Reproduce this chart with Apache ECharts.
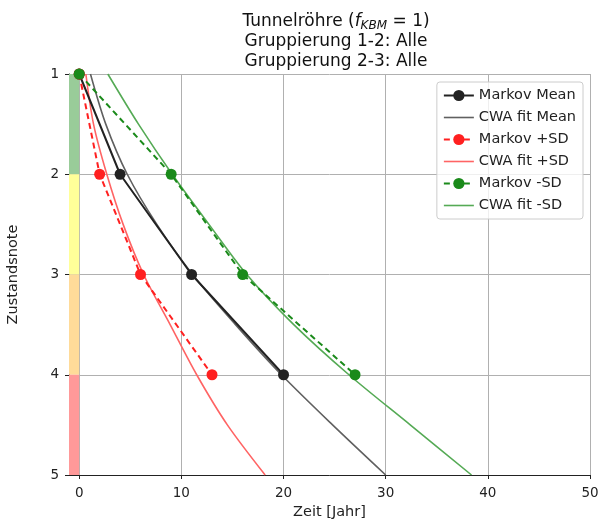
<!DOCTYPE html>
<html>
<head>
<meta charset="utf-8">
<script src="https://cdn.jsdelivr.net/npm/echarts@6/dist/echarts.min.js"></script>
<style>
  html, body { margin: 0; padding: 0; background: #fff; }
  #chart { width: 605px; height: 522px; }
</style>
</head>
<body>
<div id="chart"></div>
<script>
// Markov Stuetzstellen [Zeit, Zustandsnote]
var markovMean = [[0, 1], [4, 2], [11, 3], [20, 4]];
var markovPlus = [[0, 1], [2, 2], [6, 3], [13, 4]];
var markovMinus = [[0, 1], [9, 2], [16, 3], [27, 4]];

// CWA fit Kurven
var fitMean = [[1.1, 1], [2.6, 1.5], [4.7, 2], [7.6, 2.5], [11.1, 3], [15.3, 3.5], [19.8, 4], [24.8, 4.5], [30.0, 5]];
var fitPlus = [[0.65, 1], [1.4, 1.5], [2.7, 2], [4.3, 2.5], [6.3, 3], [8.9, 3.5], [11.5, 4], [14.5, 4.5], [18.2, 5]];
var fitMinus = [[2.8, 1], [5.8, 1.5], [9.1, 2], [12.7, 2.5], [16.4, 3], [21.0, 3.5], [26.4, 4], [32.4, 4.5], [38.4, 5]];

// Zustandsbänder links
var zoneEdges = [1, 2, 3, 4, 5];
var zoneColors = ['#99cc99', '#ffff99', '#ffdb99', '#ff9999'];

var xTicks = [0, 10, 20, 30, 40, 50];

var chart = echarts.init(document.getElementById('chart'));

var zones = [];
for (var i = 0; i < zoneColors.length; i++) {
    zones.push([
        { xAxis: -1, yAxis: zoneEdges[i], itemStyle: { color: zoneColors[i] } },
        { xAxis: 0, yAxis: zoneEdges[i + 1] }
    ]);
}

var font = 'DejaVu Sans';
var lineIcon = 'path://M0,0L30,0L30,1.6L0,1.6Z';

var option = {
    animation: false,
    textStyle: { fontFamily: font },
    title: {
        text: 'Tunnelröhre ({i|f}{sub|KBM}{n| = 1)}\nGruppierung 1-2: Alle\nGruppierung 2-3: Alle',
        left: 331,
        textAlign: 'center',
        top: 7,
        textStyle: {
            fontFamily: font,
            fontSize: 17,
            fontWeight: 'normal',
            color: '#111',
            lineHeight: 20,
            rich: {
                i: { fontFamily: font, fontSize: 17, fontStyle: 'italic', color: '#111' },
                sub: { fontFamily: font, fontSize: 12, fontStyle: 'italic', color: '#111', verticalAlign: 'bottom', padding: [7, 0, 0, 0] },
                n: { fontFamily: font, fontSize: 17, color: '#111' }
            }
        }
    },
    grid: { left: 69, right: 15, top: 74, bottom: 47, outerBoundsMode: 'none', containLabel: false },
    legend: {
        orient: 'vertical',
        right: 22,
        top: 82,
        padding: [6, 7, 6, 6],
        itemWidth: 30,
        itemHeight: 14,
        itemGap: 7,
        borderColor: '#cccccc',
        borderWidth: 1,
        borderRadius: 3,
        backgroundColor: 'rgba(255,255,255,0.8)',
        textStyle: { fontFamily: font, fontSize: 14.5, color: '#222' },
        data: [
            'Markov Mean',
            { name: 'CWA fit Mean', icon: lineIcon },
            'Markov +SD',
            { name: 'CWA fit +SD', icon: lineIcon },
            'Markov -SD',
            { name: 'CWA fit -SD', icon: lineIcon }
        ]
    },
    xAxis: {
        type: 'value',
        min: -1,
        max: 50,
        splitNumber: 5,
        name: 'Zeit [Jahr]',
        nameLocation: 'middle',
        nameGap: 30,
        nameTextStyle: { fontFamily: font, fontSize: 14.5, color: '#222' },
        axisLine: { show: true, onZero: false, lineStyle: { color: '#222', width: 1 } },
        axisTick: { show: true, length: 4, customValues: xTicks, lineStyle: { color: '#222' } },
        axisLabel: { customValues: xTicks, fontFamily: font, fontSize: 13.5, color: '#222', margin: 11 },
        splitLine: { show: true, lineStyle: { color: '#b0b0b0', width: 1 } }
    },
    yAxis: {
        type: 'value',
        inverse: true,
        min: 1,
        max: 5,
        interval: 1,
        name: 'Zustandsnote',
        nameLocation: 'middle',
        nameGap: 48,
        nameTextStyle: { fontFamily: font, fontSize: 14.5, color: '#222' },
        axisLine: { show: true, onZero: false, lineStyle: { color: '#222', width: 1 } },
        axisTick: { show: true, length: 4, lineStyle: { color: '#222' } },
        axisLabel: { fontFamily: font, fontSize: 13.5, color: '#222', margin: 10 },
        splitLine: { show: true, lineStyle: { color: '#b0b0b0', width: 1 } }
    },
    series: [
        {
            name: 'band',
            type: 'line',
            data: [],
            silent: true,
            markArea: { silent: true, data: zones }
        },
        {
            name: 'CWA fit +SD',
            type: 'line',
            data: fitPlus,
            smooth: 0.3,
            showSymbol: false,
            symbol: 'none',
            lineStyle: { color: '#ff6464', width: 1.6 },
            itemStyle: { color: '#ff6464' }
        },
        {
            name: 'CWA fit Mean',
            type: 'line',
            data: fitMean,
            smooth: 0.3,
            showSymbol: false,
            symbol: 'none',
            lineStyle: { color: '#606060', width: 1.6 },
            itemStyle: { color: '#606060' }
        },
        {
            name: 'CWA fit -SD',
            type: 'line',
            data: fitMinus,
            smooth: 0.3,
            showSymbol: false,
            symbol: 'none',
            lineStyle: { color: '#55aa55', width: 1.6 },
            itemStyle: { color: '#55aa55' }
        },
        {
            name: 'Markov Mean',
            type: 'line',
            data: markovMean,
            symbol: 'circle',
            symbolSize: 11,
            lineStyle: { color: '#222222', width: 2 },
            itemStyle: { color: '#222222' }
        },
        {
            name: 'Markov +SD',
            type: 'line',
            data: markovPlus,
            symbol: 'circle',
            symbolSize: 11,
            lineStyle: { color: '#ff2020', width: 2, type: [6, 4] },
            itemStyle: { color: '#ff2020' }
        },
        {
            name: 'Markov -SD',
            type: 'line',
            data: markovMinus,
            symbol: 'circle',
            symbolSize: 11,
            lineStyle: { color: '#1a8a1a', width: 2, type: [6, 4] },
            itemStyle: { color: '#1a8a1a' }
        }
    ]
};

chart.setOption(option);
window.addEventListener('resize', function () {
    chart.resize();
});
</script>
</body>
</html>
